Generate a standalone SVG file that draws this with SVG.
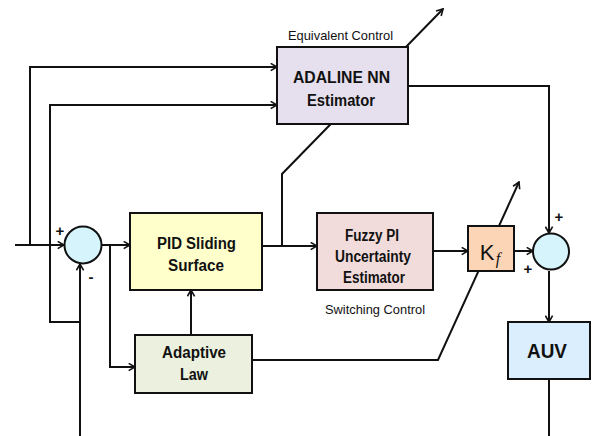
<svg xmlns="http://www.w3.org/2000/svg" width="593" height="436" viewBox="0 0 593 436">
<defs>
<style>
.ln{fill:none;stroke:#111;stroke-width:2;stroke-linejoin:miter}
.box{stroke:#111;stroke-width:2}
.t{font-family:"Liberation Sans",Arial,sans-serif;font-weight:bold;font-size:16px;fill:#111;text-anchor:middle}
.s{font-family:"Liberation Sans",Arial,sans-serif;font-size:13px;fill:#111;text-anchor:middle}
.sg{font-family:"Liberation Sans",Arial,sans-serif;font-weight:bold;font-size:15px;fill:#111;text-anchor:middle}
</style>
<marker id="ar" viewBox="0 0 10 10" refX="9" refY="5" markerWidth="9" markerHeight="9" markerUnits="userSpaceOnUse" orient="auto">
<polyline points="2,1 9,5 2,9" fill="none" stroke="#111" stroke-width="1.8"/>
</marker>
</defs>
<rect width="593" height="436" fill="#fff"/>
<g id="connectors">
<polyline class="ln" points="15,245 64,245" marker-end="url(#ar)"/>
<polyline class="ln" points="30,245 30,67 277,67" marker-end="url(#ar)"/>
<polyline class="ln" points="80,322 50,322 50,105 277,105" marker-end="url(#ar)"/>
<polyline class="ln" points="80,436 80,264" marker-end="url(#ar)"/>
<polyline class="ln" points="101,245 130,245" marker-end="url(#ar)"/>
<polyline class="ln" points="110,245 110,367 135,367" marker-end="url(#ar)"/>
<polyline class="ln" points="191,335 191,290" marker-end="url(#ar)"/>
<polyline class="ln" points="262,246 317,246" marker-end="url(#ar)"/>
<polyline class="ln" points="282,246 282,174 443,9" marker-end="url(#ar)"/>
<polyline class="ln" points="408,86 549,86 549,233" marker-end="url(#ar)"/>
<polyline class="ln" points="433,251 468,251" marker-end="url(#ar)"/>
<polyline class="ln" points="514,251 533,251" marker-end="url(#ar)"/>
<polyline class="ln" points="252,360 438,360 519,182" marker-end="url(#ar)"/>
<polyline class="ln" points="549,271 549,322" marker-end="url(#ar)"/>
<polyline class="ln" points="549,379 549,436"/>
</g>
<g id="sum1">
<circle cx="83" cy="245" r="18.5" fill="#d6f4fb" class="box"/>
<text class="sg" x="60" y="236">+</text>
<text class="sg" x="91" y="282">-</text>
</g>
<g id="sum2">
<circle cx="551" cy="251.5" r="18" fill="#d6f4fb" class="box"/>
<text class="sg" x="559" y="222">+</text>
<text class="sg" x="528" y="274">+</text>
</g>
<g id="adaline">
<rect x="277" y="47" width="131" height="77" fill="#e6e0ee" class="box"/>
<text class="t" x="341.5" y="83" textLength="97" lengthAdjust="spacingAndGlyphs">ADALINE  NN</text>
<text class="t" x="341" y="106" textLength="68" lengthAdjust="spacingAndGlyphs">Estimator</text>
<text class="s" x="340.5" y="40" textLength="105" lengthAdjust="spacingAndGlyphs">Equivalent Control</text>
</g>
<g id="pid">
<rect x="130" y="213" width="132" height="77" fill="#ffffcc" class="box"/>
<text class="t" x="196.5" y="249" textLength="79" lengthAdjust="spacingAndGlyphs">PID Sliding</text>
<text class="t" x="196" y="271" textLength="56" lengthAdjust="spacingAndGlyphs">Surface</text>
</g>
<g id="fuzzy">
<rect x="317" y="213" width="116" height="77" fill="#f2dcdb" class="box"/>
<text class="t" x="372" y="241" textLength="54" lengthAdjust="spacingAndGlyphs">Fuzzy PI</text>
<text class="t" x="373" y="262" textLength="76" lengthAdjust="spacingAndGlyphs">Uncertainty</text>
<text class="t" x="374" y="283" textLength="62" lengthAdjust="spacingAndGlyphs">Estimator</text>
<text class="s" x="375" y="314" textLength="100" lengthAdjust="spacingAndGlyphs">Switching Control</text>
</g>
<g id="kf">
<rect x="468" y="226" width="46" height="45" fill="#fbd5b5" class="box"/>
<text x="487" y="260" style="font-family:'Liberation Sans',Arial,sans-serif;font-size:22px;fill:#111;text-anchor:middle">K</text>
<text x="498" y="264" style="font-family:'Liberation Serif','Times New Roman',serif;font-style:italic;font-size:16px;fill:#111;text-anchor:middle">f</text>
</g>
<g id="adaptive">
<rect x="135" y="335" width="117" height="58" fill="#ebf1de" class="box"/>
<text class="t" x="194" y="358" textLength="64" lengthAdjust="spacingAndGlyphs">Adaptive</text>
<text class="t" x="194" y="380" textLength="28" lengthAdjust="spacingAndGlyphs">Law</text>
</g>
<g id="auv">
<rect x="508" y="322" width="82" height="57" fill="#dbeefe" class="box"/>
<text class="t" x="547" y="358" style="font-size:20px" textLength="40" lengthAdjust="spacingAndGlyphs">AUV</text>
</g>
</svg>
